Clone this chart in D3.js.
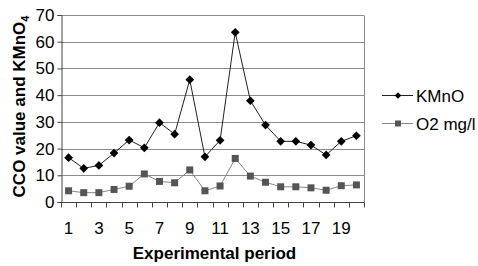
<!DOCTYPE html>
<html>
<head>
<meta charset="utf-8">
<script src="https://cdn.jsdelivr.net/npm/d3@7/dist/d3.min.js"></script>
<style>
  body { margin: 0; background: #fff; }
  svg { display: block; font-family: "Liberation Sans", Arial, sans-serif; }
</style>
</head>
<body>
<div id="chart"></div>
<script>
// periods 1..20
var periods = d3.range(1, 21);
var kmnoValues = [16.6, 12.6, 13.7, 18.3, 23.2, 20.3, 29.7, 25.4, 45.8, 16.9,
                  23.1, 63.5, 37.9, 28.8, 22.7, 22.7, 21.3, 17.6, 22.7, 24.8];
var o2Values = [4.2, 3.5, 3.5, 4.7, 5.9, 10.5, 7.7, 7.2, 12.0, 4.2,
                6.0, 16.3, 9.7, 7.4, 5.7, 5.7, 5.3, 4.4, 6.1, 6.4];
var yTicks = [0, 10, 20, 30, 40, 50, 60, 70];
var seriesNames = ["KMnO", "O2 mg/l"];

var width = 478, height = 266;
var margin = { top: 15, right: 114, bottom: 64, left: 61 };

var svg = d3.select("#chart").append("svg")
    .attr("width", width)
    .attr("height", height);

var x = d3.scaleBand().domain(periods).range([margin.left, width - margin.right]);
var y = d3.scaleLinear().domain([0, 70]).range([height - margin.bottom, margin.top]);

// gridlines
svg.append("g")
    .selectAll("line")
    .data(yTicks.filter(d => d > 0))
    .enter().append("line")
    .attr("x1", margin.left)
    .attr("x2", width - margin.right)
    .attr("y1", d => Math.round(y(d)) + 0.5)
    .attr("y2", d => Math.round(y(d)) + 0.5)
    .attr("stroke", "#8c8c8c")
    .attr("stroke-width", 1);

// right border
svg.append("line")
    .attr("x1", width - margin.right + 0.5)
    .attr("x2", width - margin.right + 0.5)
    .attr("y1", Math.round(y(70)) + 0.5)
    .attr("y2", Math.round(y(0)) + 0.5)
    .attr("stroke", "#8c8c8c");

// y axis
var yAxis = svg.append("g")
    .attr("transform", `translate(${margin.left + 0.5},0)`)
    .call(d3.axisLeft(y).tickValues(yTicks).tickSize(4).tickPadding(3));
yAxis.select(".domain").attr("stroke", "#444");
yAxis.selectAll(".tick line").attr("stroke", "#444");
yAxis.selectAll(".tick text").attr("font-size", 17).attr("fill", "#000")
    .attr("font-family", "Liberation Sans, Arial, sans-serif");

// x axis: ticks at category boundaries
var xg = svg.append("g")
    .attr("transform", `translate(0,${Math.round(y(0)) + 0.5})`);
xg.append("line")
    .attr("x1", margin.left)
    .attr("x2", width - margin.right)
    .attr("stroke", "#444");
xg.selectAll(".btick")
    .data(periods.concat([21]))
    .enter().append("line")
    .attr("x1", d => Math.round(d <= 20 ? x(d) : x(20) + x.bandwidth()) + 0.5)
    .attr("x2", d => Math.round(d <= 20 ? x(d) : x(20) + x.bandwidth()) + 0.5)
    .attr("y1", 0)
    .attr("y2", 5)
    .attr("stroke", "#444");
xg.selectAll(".xlab")
    .data(periods.filter(d => d % 2 === 1))
    .enter().append("text")
    .attr("x", d => x(d) + x.bandwidth() / 2)
    .attr("y", 31)
    .attr("text-anchor", "middle")
    .attr("font-size", 17)
    .text(d => d);

// axis titles
svg.append("text")
    .attr("x", (margin.left + width - margin.right) / 2 + 2)
    .attr("y", 259)
    .attr("text-anchor", "middle")
    .attr("font-size", 17)
    .attr("font-weight", "bold")
    .text("Experimental period");

var yt = svg.append("text")
    .attr("transform", `translate(25,${(y(0) + y(70)) / 2 - 2}) rotate(-90)`)
    .attr("text-anchor", "middle")
    .attr("font-size", 17)
    .attr("font-weight", "bold");
yt.append("tspan").text("CCO value and KMnO");
yt.append("tspan").attr("font-size", 11).attr("dy", 4).text("4");

// lines
var line = d3.line()
    .x((d, i) => x(periods[i]) + x.bandwidth() / 2)
    .y(d => y(d));

svg.append("path").datum(kmnoValues)
    .attr("d", line).attr("fill", "none").attr("stroke", "#222").attr("stroke-width", 1);
svg.append("path").datum(o2Values)
    .attr("d", line).attr("fill", "none").attr("stroke", "#888").attr("stroke-width", 1);

svg.selectAll(".kpt")
    .data(kmnoValues)
    .enter().append("path")
    .attr("d", d3.symbol().type(d3.symbolSquare).size(38))
    .attr("transform", (d, i) => `translate(${x(periods[i]) + x.bandwidth() / 2},${y(d)}) rotate(45)`)
    .attr("fill", "#000");

svg.selectAll(".opt")
    .data(o2Values)
    .enter().append("rect")
    .attr("x", (d, i) => x(periods[i]) + x.bandwidth() / 2 - 3.5)
    .attr("y", d => y(d) - 3.5)
    .attr("width", 7)
    .attr("height", 7)
    .attr("fill", "#555");

// legend
var legend = svg.append("g");
seriesNames.forEach(function (name, i) {
    var ly = 95 + i * 28;
    var g = legend.append("g").attr("transform", `translate(0,${ly})`);
    g.append("line").attr("x1", 382).attr("x2", 413).attr("y1", 0.5).attr("y2", 0.5)
        .attr("stroke", i === 0 ? "#222" : "#888");
    if (i === 0) {
        g.append("path").attr("d", d3.symbol().type(d3.symbolSquare).size(22))
            .attr("transform", "translate(398,0.5) rotate(45)").attr("fill", "#000");
    } else {
        g.append("rect").attr("x", 395).attr("y", -2.5).attr("width", 6).attr("height", 6).attr("fill", "#555");
    }
    g.append("text").attr("x", 416).attr("y", 6.5).attr("font-size", 17).text(name);
});
</script>
</body>
</html>
